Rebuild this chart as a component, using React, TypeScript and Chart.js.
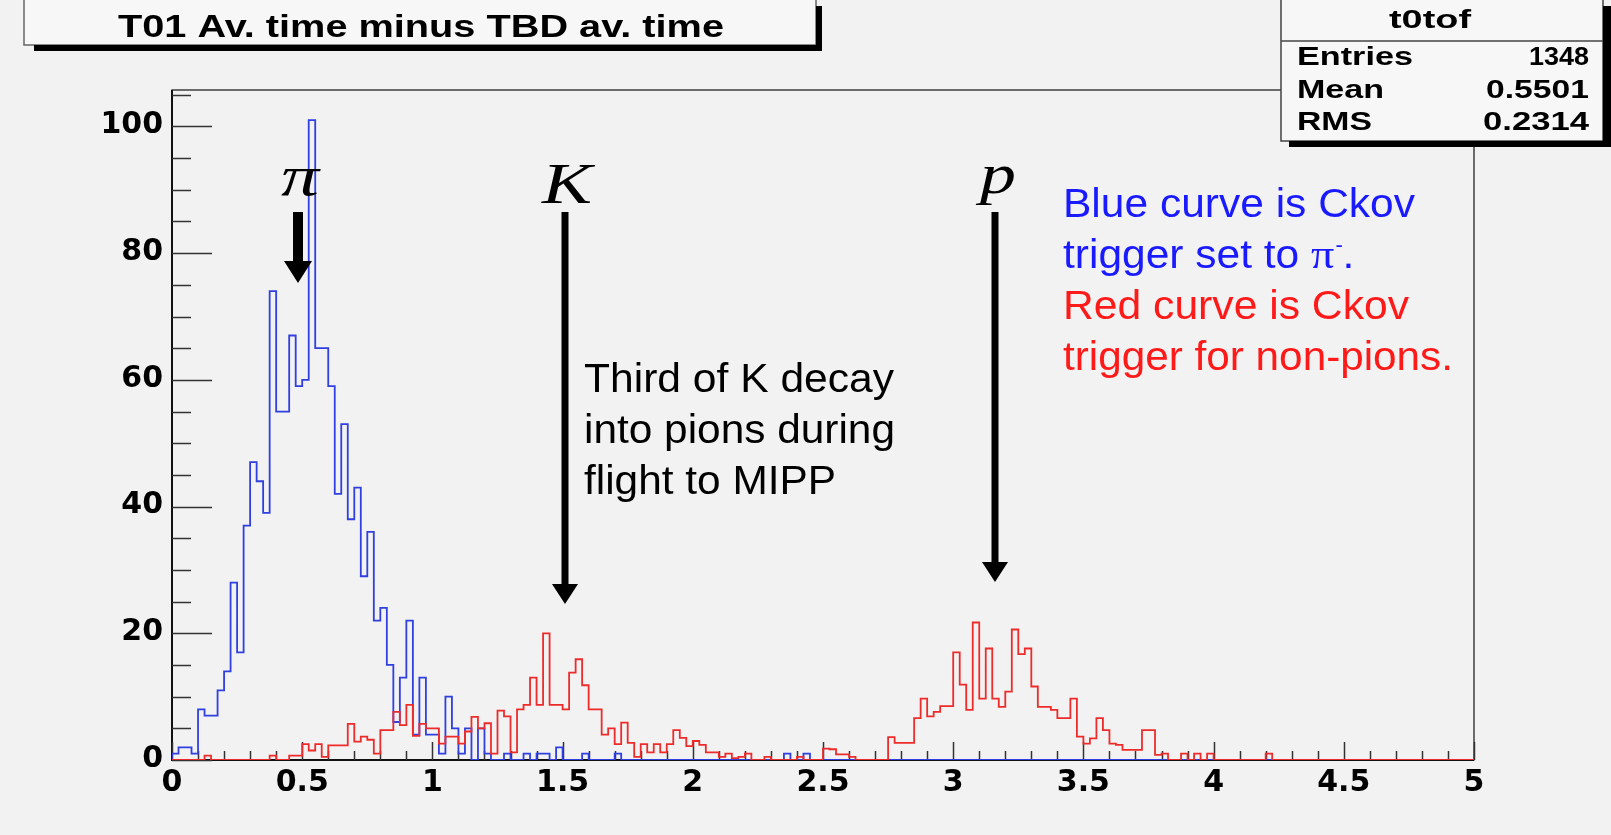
import { useEffect, useRef } from 'react';
import { Chart, registerables } from 'chart.js';

Chart.register(...registerables);

// ---------------- data ----------------
const BIN_WIDTH = 0.025; // 200 bins over [0, 5]

const blueCounts = [
  1, 2, 2, 1, 8, 7, 7, 11, 14, 28, 17, 37, 47, 44, 39, 74, 55, 55, 67, 59,
  60, 101, 65, 65, 59, 42, 53, 38, 43, 29, 36, 22, 24, 15, 6, 13, 22, 4, 13, 4,
  4, 1, 10, 5, 1, 5, 0, 5, 1, 0, 0, 1, 0, 0, 1, 0, 1, 1, 0, 2,
  0, 0, 0, 1, 0, 0, 0, 0, 1, 0, 0, 0, 0, 0, 0, 0, 0, 0, 0, 0,
  0, 0, 0, 0, 0, 0, 0, 0, 0, 0, 0, 0, 0, 0, 1, 0, 0, 1, 0, 0,
  0, 0, 0, 0, 0, 0, 0, 0, 0, 0, 0, 0, 0, 0, 0, 0, 0, 0, 0, 0,
  0, 0, 0, 0, 0, 0, 0, 0, 0, 0, 0, 0, 0, 0, 0, 0, 0, 0, 0, 0,
  0, 0, 0, 0, 0, 0, 0, 0, 0, 0, 0, 0, 0, 0, 0, 0, 0, 0, 0, 0,
  0, 0, 0, 0, 0, 0, 0, 0, 0, 0, 0, 0, 0, 0, 0, 0, 0, 0, 0, 0,
  0, 0, 0, 0, 0, 0, 0, 0, 0, 0, 0, 0, 0, 0, 0, 0, 0, 0, 0, 0,
];

const redCounts = [
  0, 0, 0, 0, 0, 0.7, 0, 0, 0, 0, 0, 0, 0, 0, 0, 0.7, 0, 0, 0.7, 0.7,
  2.5, 1.5, 2.5, 0.5, 2.3, 2.3, 2.3, 5.7, 2.9, 3.7, 3.2, 1, 4.7, 4.7, 7.6, 5.5, 8.7, 3.8, 5.7, 5,
  5, 2.6, 3.7, 3.7, 2.6, 4.5, 6.8, 5, 5.8, 1, 7.8, 6.9, 1.2, 8, 8.7, 13, 8.7, 20, 8.7, 8.7,
  8, 13.8, 15.9, 11.8, 8, 8, 4, 5, 2.5, 5.9, 2.7, 0.5, 2.5, 1.2, 2.5, 1.2, 2.5, 4.7, 3.5, 2.2,
  3, 2.4, 1.2, 1.2, 0.5, 1, 0.3, 0.5, 1, 0, 0, 0.5, 0, 0, 0, 0, 0.5, 0, 0, 0,
  1.8, 1.7, 0.9, 0.9, 0.5, 0, 0, 0, 0, 0, 3.6, 2.7, 2.7, 2.7, 6.6, 9.7, 6.9, 7.6, 8.5, 8.5,
  17, 11.9, 7.9, 21.7, 9.7, 17.6, 9.7, 8.4, 10.8, 20.6, 16.7, 17.6, 11.6, 8.4, 8.4, 7.9, 6.6, 6.6, 9.7, 3.7,
  2.6, 3.4, 6.6, 4.7, 2.6, 2.4, 1.6, 1.6, 1.6, 4.7, 4.7, 0.8, 1, 0, 0, 1, 0, 1, 0, 1,
  0, 0, 0, 0, 0, 0, 0, 0, 1, 0, 0, 0, 0, 0, 0, 0, 0, 0, 0, 0,
  0, 0, 0, 0, 0, 0, 0, 0, 0, 0, 0, 0, 0, 0, 0, 0, 0, 0, 0, 0,
];

const xTickValues = [0, 0.5, 1, 1.5, 2, 2.5, 3, 3.5, 4, 4.5, 5];
const xTickLabels = ['0', '0.5', '1', '1.5', '2', '2.5', '3', '3.5', '4', '4.5', '5'];
const yTickValues = [0, 20, 40, 60, 80, 100];
const yTickLabels = ['0', '20', '40', '60', '80', '100'];

const titleText = 'T01 Av. time minus TBD av. time';
const statsName = 't0tof';
const statsLabels = ['Entries', 'Mean', 'RMS'];
const statsValues = ['1348', '0.5501', '0.2314'];

const noteLines = ['Third of K decay', 'into pions during', 'flight to MIPP'];
const blueNote = ['Blue curve is Ckov', 'trigger set to '];
const redNote = ['Red curve is Ckov', 'trigger for non-pions.'];

// ---------------- helpers ----------------
function toSteps(counts: number[]) {
  const pts: { x: number; y: number }[] = [{ x: 0, y: 0 }];
  counts.forEach((c, i) => pts.push({ x: i * BIN_WIDTH, y: c }));
  pts.push({ x: counts.length * BIN_WIDTH, y: counts[counts.length - 1] });
  return pts;
}

function fitText(
  ctx: CanvasRenderingContext2D,
  text: string,
  x: number,
  y: number,
  font: string,
  color: string,
  width: number | null,
  align: 'left' | 'center' | 'right' = 'left',
  sxForce?: number
) {
  ctx.save();
  ctx.font = font;
  ctx.fillStyle = color;
  ctx.textBaseline = 'alphabetic';
  ctx.textAlign = 'left';
  const w = ctx.measureText(text).width;
  const sx = sxForce ?? (width ? width / w : 1);
  let x0 = x;
  if (align === 'center') x0 = x - (w * sx) / 2;
  if (align === 'right') x0 = x - w * sx;
  ctx.translate(x0, y);
  ctx.scale(sx, 1);
  ctx.fillText(text, 0, 0);
  ctx.restore();
  return { sx, end: x0 + w * sx };
}

function arrow(ctx: CanvasRenderingContext2D, x: number, y0: number, y1: number, shaft: number, headW: number, headL: number) {
  ctx.save();
  ctx.fillStyle = '#000';
  ctx.fillRect(x - shaft / 2, y0, shaft, y1 - headL - y0 + 1);
  ctx.beginPath();
  ctx.moveTo(x - headW / 2, y1 - headL);
  ctx.lineTo(x + headW / 2, y1 - headL);
  ctx.lineTo(x, y1);
  ctx.closePath();
  ctx.fill();
  ctx.restore();
}

const bgPlugin = {
  id: 'bg',
  beforeDraw(chart: any) {
    const { ctx, width, height } = chart;
    ctx.save();
    ctx.fillStyle = '#f2f2f2';
    ctx.fillRect(0, 0, width, height);
    ctx.restore();
  },
};

const framePlugin = {
  id: 'rootFrame',
  beforeDatasetsDraw(chart: any) {
    const { ctx, chartArea: a, scales } = chart;
    const xs = scales.x;
    const ys = scales.y;
    ctx.save();
    ctx.strokeStyle = '#111';
    ctx.lineWidth = 1.2;
    ctx.strokeRect(a.left, a.top, a.right - a.left, a.bottom - a.top);
    ctx.lineWidth = 2;
    ctx.beginPath();
    ctx.moveTo(a.left, a.top);
    ctx.lineTo(a.left, a.bottom);
    ctx.lineTo(a.right, a.bottom);
    ctx.stroke();
    // y ticks (inside frame)
    ctx.strokeStyle = '#333';
    ctx.lineWidth = 1.5;
    for (let v = 0; v <= ys.max + 1e-6; v += 5) {
      const py = Math.round(ys.getPixelForValue(v)) + 0.5;
      const len = v % 20 === 0 ? 40 : 19;
      ctx.beginPath();
      ctx.moveTo(a.left, py);
      ctx.lineTo(a.left + len, py);
      ctx.stroke();
    }
    // x ticks (inside frame)
    for (let i = 0; i <= 50; i++) {
      const px = Math.round(xs.getPixelForValue(i * 0.1)) + 0.5;
      const len = i % 5 === 0 ? 18 : 9;
      ctx.beginPath();
      ctx.moveTo(px, a.bottom);
      ctx.lineTo(px, a.bottom - len);
      ctx.stroke();
    }
    ctx.restore();
  },
};

const annotPlugin = {
  id: 'annot',
  afterDraw(chart: any) {
    const ctx: CanvasRenderingContext2D = chart.ctx;
    ctx.save();
    // title box
    ctx.fillStyle = '#f7f7f7';
    ctx.fillRect(24, -2, 792, 47);
    ctx.strokeStyle = '#666';
    ctx.lineWidth = 1.5;
    ctx.strokeRect(24, -2, 792, 47);
    ctx.fillStyle = '#000';
    ctx.fillRect(34, 45, 788, 6);
    ctx.fillRect(816, 6, 6, 45);
    fitText(ctx, titleText, 421, 37, 'bold 32px "Liberation Sans"', '#000', 606, 'center');

    // stats box
    ctx.fillStyle = '#f7f7f7';
    ctx.fillRect(1281, -2, 322, 143);
    ctx.strokeStyle = '#444';
    ctx.lineWidth = 1.5;
    ctx.strokeRect(1281, -2, 322, 143);
    ctx.beginPath();
    ctx.moveTo(1281, 41);
    ctx.lineTo(1603, 41);
    ctx.stroke();
    ctx.fillStyle = '#000';
    ctx.fillRect(1289, 141, 322, 6);
    ctx.fillRect(1603, 6, 8, 141);
    fitText(ctx, statsName, 1430, 28, 'bold 26px "Liberation Sans"', '#000', 82, 'center');
    const labW = [116, 87, 75];
    const valW = [60, 103, 106];
    const rowY = [65, 98, 130];
    statsLabels.forEach((l, i) => {
      fitText(ctx, l, 1297, rowY[i], 'bold 26px "Liberation Sans"', '#000', labW[i], 'left');
      fitText(ctx, statsValues[i], 1589, rowY[i], 'bold 26px "Liberation Sans"', '#000', valW[i], 'right');
    });

    // particle labels
    const mfont = 'italic 58px "Liberation Serif"';
    fitText(ctx, 'π', 300, 195, mfont, '#000', 38, 'center');
    fitText(ctx, 'K', 567, 203, mfont, '#000', 50, 'center');
    fitText(ctx, 'p', 998, 193, mfont, '#000', 36, 'center');

    // arrows
    arrow(ctx, 298, 212, 283, 10, 28, 22);
    arrow(ctx, 565, 212, 604, 7, 26, 20);
    arrow(ctx, 995, 212, 582, 7, 26, 20);

    // notes
    const nfont = '40px "Liberation Sans"';
    const noteW = [310, 311, 252];
    noteLines.forEach((t, i) => {
      fitText(ctx, t, 584, 392 + i * 51, nfont, '#000', noteW[i], 'left');
    });
    const blue = '#1a1aff';
    const red = '#ff1a1a';
    const r1 = fitText(ctx, blueNote[0], 1063, 217, nfont, blue, 352, 'left');
    const r2 = fitText(ctx, blueNote[1], 1063, 268, nfont, blue, null, 'left', r1.sx);
    const r3 = fitText(ctx, 'π', r2.end, 268, '42px "Liberation Serif"', blue, null, 'left', 1.1);
    fitText(ctx, '-', r3.end + 1, 252, '22px "Liberation Sans"', blue, null, 'left');
    fitText(ctx, '.', r3.end + 8, 268, nfont, blue, null, 'left', r1.sx);
    fitText(ctx, redNote[0], 1063, 319, nfont, red, 346, 'left');
    fitText(ctx, redNote[1], 1063, 370, nfont, red, 390, 'left');
    ctx.restore();
  },
};

export default function App() {
  const ref = useRef<HTMLCanvasElement | null>(null);

  useEffect(() => {
    if (!ref.current) return;
    const tickFont = { family: '"DejaVu Sans"', size: 30, weight: 'bold' as const, lineHeight: 1 };
    const chart = new Chart(ref.current, {
      type: 'line',
      data: {
        datasets: [
          {
            label: 'non-pion trigger',
            data: toSteps(redCounts),
            borderColor: '#ee2b2b',
            borderWidth: 1.8,
            stepped: true,
            pointRadius: 0,
            fill: false,
          },
          {
            label: 't0tof',
            data: toSteps(blueCounts),
            borderColor: '#2f3fe0',
            borderWidth: 1.8,
            stepped: true,
            pointRadius: 0,
            fill: false,
          },
        ],
      },
      options: {
        animation: false,
        responsive: false,
        devicePixelRatio: 1,
        events: [],
        layout: { padding: { top: 90, right: 137, left: 0, bottom: 0 } },
        plugins: {
          legend: { display: false },
          tooltip: { enabled: false },
          title: { display: false },
        },
        scales: {
          x: {
            type: 'linear',
            min: 0,
            max: 5,
            grid: { display: false },
            border: { display: false },
            afterBuildTicks: (s: any) => {
              s.ticks = xTickValues.map((v) => ({ value: v }));
            },
            afterFit: (s: any) => {
              s.height = 75;
            },
            ticks: {
              autoSkip: false,
              maxRotation: 0,
              padding: 0,
              color: '#000',
              font: tickFont,
              callback: (_v: any, i: number) => xTickLabels[i],
            },
          },
          y: {
            type: 'linear',
            min: 0,
            max: 105.75,
            grid: { display: false, drawTicks: false },
            border: { display: false },
            afterBuildTicks: (s: any) => {
              s.ticks = yTickValues.map((v) => ({ value: v }));
            },
            afterFit: (s: any) => {
              s.width = 172;
            },
            ticks: {
              padding: 9,
              labelOffset: -1,
              color: '#000',
              font: tickFont,
              callback: (_v: any, i: number) => yTickLabels[i],
            },
          },
        },
      },
      plugins: [bgPlugin, framePlugin, annotPlugin],
    });
    return () => chart.destroy();
  }, []);

  return (
    <div style={{ position: 'fixed', left: 0, top: 0, width: 1611, height: 835, background: '#f2f2f2' }}>
      <canvas ref={ref} width={1611} height={835} style={{ display: 'block' }} />
    </div>
  );
}
